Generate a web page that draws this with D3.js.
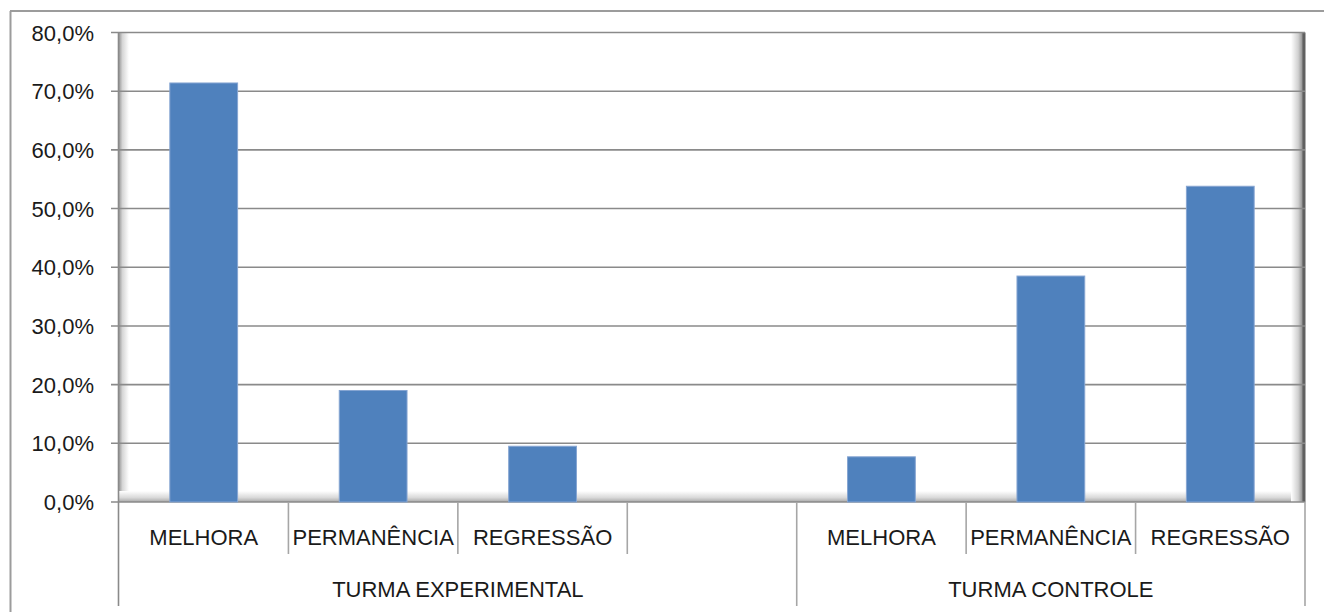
<!DOCTYPE html>
<meta charset="utf-8">
<style>
body{ margin:0; background:#fff; }
text{ font-family:"Liberation Sans", Arial, sans-serif; fill:#1a1a1a; }
.tick-label{ font-size:22px; }
.cat{ font-size:22px; text-anchor:middle; }
.grp{ font-size:22px; text-anchor:middle; }
.grid{ stroke:#8a8a8a; stroke-width:1.6; }
.sep{ stroke:#a6a6a6; stroke-width:1.6; }
</style>
<body>
<script src="https://d3js.org/d3.v7.min.js"></script>
<script>

// data
var groups = ["TURMA EXPERIMENTAL", "TURMA CONTROLE"];
var experimentalCats = ["MELHORA", "PERMANÊNCIA", "REGRESSÃO", ""];
var experimentalVals = [71.4, 19.0, 9.5, null];
var controleCats = ["MELHORA", "PERMANÊNCIA", "REGRESSÃO"];
var controleVals = [7.7, 38.5, 53.8];
var yTicks = [0, 10, 20, 30, 40, 50, 60, 70, 80];

var rows = [];
experimentalCats.forEach(function(c, i){ rows.push({grp:0, cat:c, v:experimentalVals[i], id:"e"+i}); });
controleCats.forEach(function(c, i){ rows.push({grp:1, cat:c, v:controleVals[i], id:"c"+i}); });

var W = 1324, H = 612;
var pLeft = 119, pRight = 1305, pTop = 32.5, pBottom = 502;

var svg = d3.select("body").append("svg").attr("width", W).attr("height", H);

var defs = svg.append("defs");
function grad(id, x1, y1, x2, y2, stops){
  var g = defs.append("linearGradient").attr("id", id)
    .attr("x1", x1).attr("y1", y1).attr("x2", x2).attr("y2", y2);
  stops.forEach(function(s){ g.append("stop").attr("offset", s[0]).attr("stop-color", s[1]); });
}
grad("wallL", 0, 0, 1, 0, [[0, "#9a9a9a"], [0.35, "#d6d6d6"], [1, "#ffffff"]]);
grad("floor", 0, 0, 0, 1, [[0, "#ffffff"], [0.6, "#d9d9d9"], [1, "#a8a8a8"]]);
grad("wallR", 0, 0, 1, 0, [[0, "#ffffff"], [0.6, "#d0d0d0"], [1, "#8a8a8a"]]);

// outer chart frame
svg.append("line").attr("x1", 10.5).attr("x2", 10.5).attr("y1", 11).attr("y2", H).attr("stroke", "#9c9c9c").attr("stroke-width", 2);
svg.append("line").attr("x1", 10).attr("x2", W).attr("y1", 11).attr("y2", 11).attr("stroke", "#9c9c9c").attr("stroke-width", 2);

var x = d3.scaleBand().domain(rows.map(d => d.id)).range([pLeft, pRight]).paddingInner(0).paddingOuter(0);
var y = d3.scaleLinear().domain([0, 80]).range([pBottom, pTop]);

// 3d-ish walls
svg.append("rect").attr("x", pLeft).attr("y", pTop).attr("width", 10).attr("height", pBottom - pTop).attr("fill", "url(#wallL)");
svg.append("rect").attr("x", pLeft).attr("y", pBottom - 11).attr("width", pRight - pLeft).attr("height", 11).attr("fill", "url(#floor)");
svg.append("rect").attr("x", pRight - 14).attr("y", pTop).attr("width", 12).attr("height", pBottom - pTop).attr("fill", "url(#wallR)");
svg.append("line").attr("x1", pRight - 1).attr("x2", pRight - 1).attr("y1", pTop).attr("y2", pBottom).attr("stroke", "#606060").attr("stroke-width", 3);

// gridlines + y ticks
svg.append("g").selectAll("line").data(yTicks).join("line")
  .attr("class", "grid")
  .attr("x1", pLeft - 8).attr("x2", pRight)
  .attr("y1", d => y(d)).attr("y2", d => y(d));

var fmt = d3.format(".1f");
svg.append("g").selectAll("text").data(yTicks).join("text")
  .attr("class", "tick-label")
  .attr("x", 94).attr("y", d => y(d) + 8)
  .attr("text-anchor", "end")
  .text(d => fmt(d).replace(".", ",") + "%");

// bars
var bw = x.bandwidth() * 0.4;
svg.append("g").selectAll("rect").data(rows.filter(d => d.v != null)).join("rect")
  .attr("x", d => x(d.id) + (x.bandwidth() - bw) / 2)
  .attr("y", d => y(d.v))
  .attr("width", bw)
  .attr("height", d => y(0) - y(d.v))
  .attr("fill", "#4f81bd")
  .attr("stroke", "#86a5d2")
  .attr("stroke-width", 1);

// axis line
svg.append("line").attr("x1", pLeft - 0.5).attr("x2", pLeft - 0.5).attr("y1", pTop).attr("y2", 606).attr("class", "sep").style("stroke", "#8a8a8a");

// separators between categories
var sepG = svg.append("g");
rows.forEach(function(d, i){
  if (i === 0) return;
  var xx = x(d.id);
  var long = rows[i - 1].grp !== d.grp;
  sepG.append("line").attr("class", "sep")
    .attr("x1", xx).attr("x2", xx)
    .attr("y1", pBottom).attr("y2", long ? 606 : 554);
});
sepG.append("line").attr("class", "sep")
  .attr("x1", pRight).attr("x2", pRight).attr("y1", pBottom).attr("y2", 606);

// category labels
svg.append("g").selectAll("text").data(rows).join("text")
  .attr("class", "cat")
  .attr("x", d => x(d.id) + x.bandwidth() / 2)
  .attr("y", 545)
  .text(d => d.cat);

// group labels
svg.append("g").selectAll("text").data(groups).join("text")
  .attr("class", "grp")
  .attr("x", function(g, gi){
    var ids = rows.filter(r => r.grp === gi).map(r => r.id);
    return (x(ids[0]) + x(ids[ids.length - 1]) + x.bandwidth()) / 2;
  })
  .attr("y", 597)
  .text(d => d);

</script>
</body>
